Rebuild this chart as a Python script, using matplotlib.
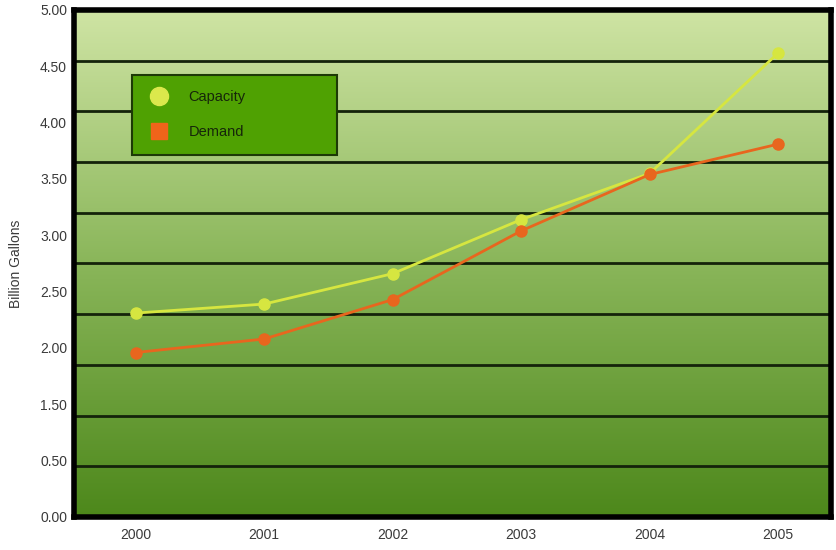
import numpy as np
import matplotlib
matplotlib.use("Agg")
import matplotlib.pyplot as plt
from matplotlib.lines import Line2D
from matplotlib.colors import LinearSegmentedColormap

plt.rcParams['font.family'] = ['Liberation Sans', 'DejaVu Sans']

years = [2000, 2001, 2002, 2003, 2004, 2005]
capacity = [2.31, 2.39, 2.66, 3.14, 3.55, 4.62]
demand = [1.96, 2.08, 2.43, 3.04, 3.54, 3.81]

# the original axis labels skip 1.00, each label gets an equal slot
ytick_vals = [0.0, 0.5, 1.5, 2.0, 2.5, 3.0, 3.5, 4.0, 4.5, 5.0]
ytick_labels = ["0.00", "0.50", "1.50", "2.00", "2.50", "3.00", "3.50", "4.00", "4.50", "5.00"]
slots = np.arange(len(ytick_vals), dtype=float)

def fwd(v):
    return np.interp(v, ytick_vals, slots)

def inv(s):
    return np.interp(s, slots, ytick_vals)

fig = plt.figure(figsize=(8.37, 5.5), dpi=100)
ax = fig.add_axes([74/837, 1 - 517/550, (831 - 74)/837, (517 - 10)/550])
ax.set_yscale('function', functions=(fwd, inv))

# background gradient
cmap = LinearSegmentedColormap.from_list('bg', ['#4d881b', '#8ab65a', '#cfe4a4'])
grad = np.linspace(0, 1, 256).reshape(-1, 1)
ax.imshow(grad, cmap=cmap, origin='lower', aspect='auto',
          extent=(0, 1, 0, 1), transform=ax.transAxes, zorder=0)

ax.set_xlim(1999.52, 2005.41)
ax.set_ylim(0, 5)

# horizontal bands: 10 equal intervals of the frame
for k in range(1, 10):
    ax.axhline(inv(k * 0.9), color='#14230a', lw=2, zorder=1)

ax.plot(years, capacity, color='#d6e640', lw=2, marker='o', ms=8,
        zorder=3, label='Capacity')
ax.plot(years, demand, color='#e8661e', lw=2, marker='o', ms=8,
        zorder=3, label='Demand')

ax.set_yticks(ytick_vals)
ax.set_yticklabels(ytick_labels)
ax.minorticks_off()
ax.set_xticks(years)
ax.set_xticklabels([str(y) for y in years])
ax.tick_params(length=0, labelsize=10, labelcolor='#3a3a3a', pad=8)
ax.tick_params(axis='y', pad=5)
ax.set_ylabel('Billion Gallons', fontsize=10, color='#3a3a3a', labelpad=12)

for sp in ax.spines.values():
    sp.set_color('black')
    sp.set_linewidth(4)

handles = [
    Line2D([], [], ls='none', marker='o', ms=13, color='#dbe84c', mec='#dbe84c'),
    Line2D([], [], ls='none', marker='s', ms=12, color='#f0641a', mec='#f0641a'),
]
leg = ax.legend(handles, ['Capacity', 'Demand'], loc='upper left',
                bbox_to_anchor=(0.077, 0.872, 0.271, 0.0), mode='expand',
                fontsize=10.5, frameon=True, fancybox=False, borderpad=1.05,
                labelspacing=1.45, handletextpad=1.2, handlelength=1.6,
                borderaxespad=0)
leg.get_frame().set_facecolor('#4fa102')
leg.get_frame().set_edgecolor('#1d3a06')
leg.get_frame().set_linewidth(1.5)
leg.get_frame().set_alpha(1)
for t in leg.get_texts():
    t.set_color('#16260a')

fig.savefig('out.png', dpi=100)
